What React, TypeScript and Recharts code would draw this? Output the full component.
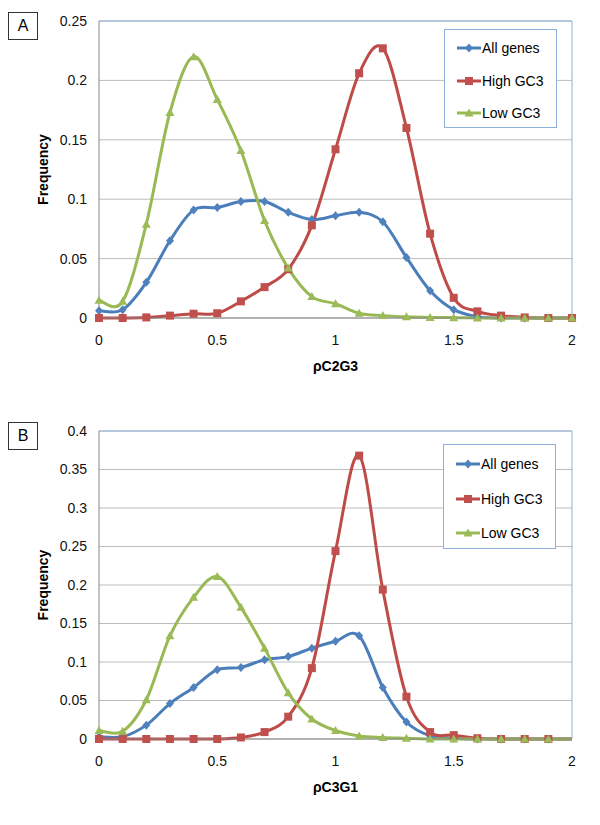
import React from 'react'
import { LineChart, Line, XAxis, YAxis, CartesianGrid, ReferenceLine, Legend } from 'recharts'

// x positions shared by both panels
const xValues = [0, 0.1, 0.2, 0.3, 0.4, 0.5, 0.6, 0.7, 0.8, 0.9, 1, 1.1, 1.2, 1.3, 1.4, 1.5, 1.6, 1.7, 1.8, 1.9, 2]
const xTicks = [0, 0.5, 1, 1.5, 2]

// panel A: rhoC2G3
const allGenesA = [0.006, 0.007, 0.03, 0.065, 0.091, 0.093, 0.098, 0.098, 0.089, 0.083, 0.086, 0.089, 0.081, 0.051, 0.023, 0.007, 0.001, 0, 0, 0, 0]
const highGC3A = [0, 0, 0.0005, 0.002, 0.0036, 0.004, 0.014, 0.026, 0.041, 0.078, 0.142, 0.206, 0.227, 0.16, 0.071, 0.017, 0.0056, 0.002, 0.0005, 0, 0]
const lowGC3A = [0.015, 0.014, 0.079, 0.173, 0.22, 0.184, 0.141, 0.082, 0.042, 0.018, 0.012, 0.004, 0.002, 0.001, 0.0005, 0.0003, 0, 0, 0, 0, 0]
const yTicksA = [0, 0.05, 0.1, 0.15, 0.2, 0.25]

// panel B: rhoC3G1
const allGenesB = [0.003, 0.003, 0.018, 0.046, 0.067, 0.09, 0.093, 0.103, 0.107, 0.118, 0.127, 0.134, 0.067, 0.022, 0.004, 0.001, 0, 0, 0, 0, 0]
const highGC3B = [0, 0, 0, 0, 0, 0, 0.002, 0.009, 0.029, 0.092, 0.244, 0.368, 0.194, 0.055, 0.009, 0.005, 0.001, 0, 0, 0, 0]
const lowGC3B = [0.011, 0.01, 0.051, 0.134, 0.184, 0.211, 0.171, 0.118, 0.06, 0.026, 0.011, 0.004, 0.002, 0.001, 0, 0, 0, 0, 0, 0, 0]
const yTicksB = [0, 0.05, 0.1, 0.15, 0.2, 0.25, 0.3, 0.35, 0.4]

const seriesNames = ['All genes', 'High GC3', 'Low GC3']

const BLUE = '#4A7EBB'
const RED = '#BE4B48'
const GREEN = '#98B954'
const FRAME = '#8DB0DB'

// Excel-like smoothed line (Catmull-Rom through every point)
const excelSmooth = (context: any) => {
  let pts: number[][] = []
  return {
    areaStart() {},
    areaEnd() {},
    lineStart() {
      pts = []
    },
    point(x: number, y: number) {
      pts.push([x, y])
    },
    lineEnd() {
      if (!pts.length) return
      context.moveTo(pts[0][0], pts[0][1])
      for (let i = 0; i < pts.length - 1; i++) {
        const p0 = pts[i - 1] || pts[i]
        const p1 = pts[i]
        const p2 = pts[i + 1]
        const p3 = pts[i + 2] || p2
        context.bezierCurveTo(
          p1[0] + (p2[0] - p0[0]) / 6,
          p1[1] + (p2[1] - p0[1]) / 6,
          p2[0] - (p3[0] - p1[0]) / 6,
          p2[1] - (p3[1] - p1[1]) / 6,
          p2[0],
          p2[1]
        )
      }
    },
  }
}

const Marker = ({ shape, cx, cy, color }: any) => {
  if (shape === 'diamond') {
    return <path d={`M${cx},${cy - 4.5} L${cx + 4},${cy} L${cx},${cy + 4.5} L${cx - 4},${cy} Z`} fill="#4F81BD" />
  }
  if (shape === 'square') {
    return <rect x={cx - 4} y={cy - 4} width={8} height={8} fill="#C0504D" />
  }
  return <path d={`M${cx},${cy - 4.5} L${cx + 4.5},${cy + 3.5} L${cx - 4.5},${cy + 3.5} Z`} fill={color || '#9BBB59'} />
}

const shapes = ['diamond', 'square', 'triangle']

const makeDot = (shape: string, skipLast: boolean) => (props: any) => {
  const { cx, cy, index } = props
  if (cx == null || cy == null || (skipLast && index === xValues.length - 1)) {
    return <g key={`${shape}-${index}`} />
  }
  return (
    <g key={`${shape}-${index}`}>
      <Marker shape={shape} cx={cx} cy={cy} />
    </g>
  )
}

const LegendBox = ({ width, height, firstRow, gap }: any) => (
  <div
    style={{
      width,
      height,
      border: `1px solid ${FRAME}`,
      background: '#fff',
      boxSizing: 'border-box',
      position: 'relative',
    }}
  >
    {seriesNames.map((name, i) => (
      <div
        key={name}
        style={{ position: 'absolute', left: 11, top: firstRow + i * gap - 9, height: 18, display: 'flex', alignItems: 'center', whiteSpace: 'nowrap' }}
      >
        <svg width={26} height={12}>
          <line x1={1} y1={6} x2={25} y2={6} stroke={[BLUE, RED, GREEN][i]} strokeWidth={3} />
          <Marker shape={shapes[i]} cx={13} cy={6} />
        </svg>
        <span style={{ fontSize: 14, color: '#000' }}>{name}</span>
      </div>
    ))}
  </div>
)

const Panel = ({ letter, xTitle, all, high, low, yTicks, top, height, plotTop, plotBottom, legend, skipLast }: any) => {
  const rows = xValues.map((x, i) => ({ x, all: all[i], high: high[i], low: low[i] }))
  const yMax = yTicks[yTicks.length - 1]
  const tick = { fill: '#111', fontSize: 14 }
  return (
    <div style={{ position: 'absolute', left: 0, top, width: 600, height }}>
      <div
        style={{
          position: 'absolute',
          left: 8,
          top: 12,
          width: 30,
          height: 28,
          border: '1px solid #333',
          boxSizing: 'border-box',
          fontSize: 16,
          lineHeight: '26px',
          textAlign: 'center',
          zIndex: 2,
        }}
      >
        {letter}
      </div>
      <LineChart
        width={600}
        height={height}
        data={rows}
        margin={{ top: plotTop, right: 28, left: 39, bottom: height - plotBottom - 30 }}
      >
        <CartesianGrid vertical={false} stroke="#BDBDBD" />
        <XAxis
          dataKey="x"
          type="number"
          domain={[0, 2]}
          ticks={xTicks}
          height={30}
          tick={tick}
          tickLine={false}
          tickSize={0}
          tickMargin={17}
          axisLine={{ stroke: '#868686' }}
          label={{ value: xTitle, position: 'bottom', offset: 13, fontSize: 14, fontWeight: 'bold', fill: '#000' }}
        />
        <YAxis
          type="number"
          domain={[0, yMax]}
          ticks={yTicks}
          width={60}
          tick={tick}
          tickLine={false}
          tickSize={0}
          tickMargin={12}
          axisLine={{ stroke: '#868686' }}
          label={{
            value: 'Frequency',
            angle: -90,
            position: 'insideLeft',
            offset: 4,
            fontSize: 14,
            fontWeight: 'bold',
            fill: '#000',
            style: { textAnchor: 'middle' },
          }}
        />
        <ReferenceLine y={yMax} stroke={FRAME} strokeWidth={1} />
        <ReferenceLine x={2} stroke={FRAME} strokeWidth={1} />
        <Legend
          layout="vertical"
          align="center"
          verticalAlign="middle"
          width={legend.width}
          wrapperStyle={{ left: legend.left, top: legend.top, width: legend.width, height: legend.height }}
          content={() => <LegendBox {...legend} />}
        />
        <Line
          dataKey="all"
          name={seriesNames[0]}
          type={excelSmooth as any}
          stroke={BLUE}
          strokeWidth={3}
          dot={makeDot('diamond', skipLast)}
          activeDot={false}
          isAnimationActive={false}
        />
        <Line
          dataKey="high"
          name={seriesNames[1]}
          type={excelSmooth as any}
          stroke={RED}
          strokeWidth={3}
          dot={makeDot('square', skipLast)}
          activeDot={false}
          isAnimationActive={false}
        />
        <Line
          dataKey="low"
          name={seriesNames[2]}
          type={excelSmooth as any}
          stroke={GREEN}
          strokeWidth={3}
          dot={makeDot('triangle', skipLast)}
          activeDot={false}
          isAnimationActive={false}
        />
      </LineChart>
    </div>
  )
}

export default function App() {
  return (
    <div
      style={{
        position: 'absolute',
        left: 0,
        top: 0,
        width: 600,
        height: 825,
        background: '#fff',
        fontFamily: '"Liberation Sans", Arial, sans-serif',
      }}
    >
      <Panel
        letter="A"
        xTitle="ρC2G3"
        all={allGenesA}
        high={highGC3A}
        low={lowGC3A}
        yTicks={yTicksA}
        top={0}
        height={400}
        plotTop={21}
        plotBottom={318}
        legend={{ left: 444, top: 29, width: 113, height: 99, firstRow: 18, gap: 32.5 }}
        skipLast={false}
      />
      <Panel
        letter="B"
        xTitle="ρC3G1"
        all={allGenesB}
        high={highGC3B}
        low={lowGC3B}
        yTicks={yTicksB}
        top={410}
        height={415}
        plotTop={21}
        plotBottom={329}
        legend={{ left: 443, top: 34, width: 113, height: 105, firstRow: 19, gap: 34.5 }}
        skipLast={true}
      />
    </div>
  )
}
